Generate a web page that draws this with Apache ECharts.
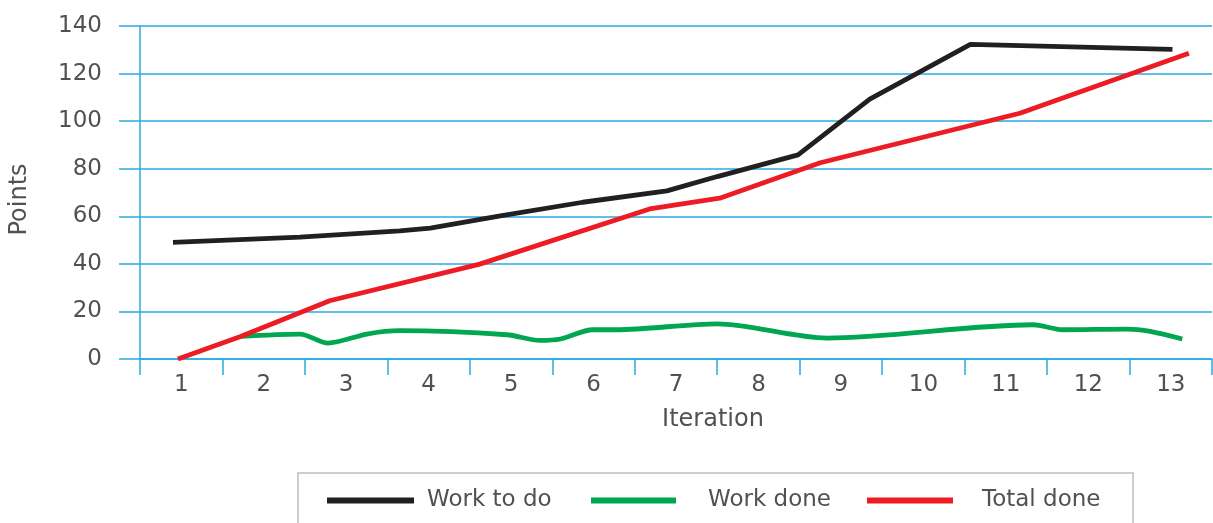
<!DOCTYPE html>
<html>
<head>
<meta charset="utf-8">
<script src="https://cdn.jsdelivr.net/npm/echarts@6/dist/echarts.min.js"></script>
<style>
html,body{margin:0;padding:0;background:#fff;}
#chart{width:1213px;height:523px;}
</style>
</head>
<body>
<div id="chart"></div>
<script>
// Category tick labels
var iterations = ['1','2','3','4','5','6','7','8','9','10','11','12','13'];
var yTicks = [0, 20, 40, 60, 80, 100, 120, 140];

// Series: x positions (in iteration units) and values
var workToDoX = [0.90, 2.44, 3.65, 4.02, 4.87, 5.87, 6.89, 7.50, 8.48, 9.35, 10.57, 13.02];
var workToDo  = [49.0, 51.2, 53.9, 55.0, 60.2, 65.9, 70.7, 76.7, 85.8, 109.3, 132.3, 130.2];

var workDoneX = [1.72, 2.44, 2.78, 3.25, 3.65, 4.95, 5.35, 5.60, 5.99, 6.28, 7.50, 8.83, 11.33, 11.69, 12.47, 12.75, 13.14];
var workDone  = [9.5, 10.5, 6.7, 10.5, 11.9, 10.2, 7.8, 8.4, 12.3, 12.3, 14.8, 8.8, 14.4, 12.3, 12.6, 11.6, 8.4];

var totalDoneX = [0.96, 1.72, 2.80, 4.62, 6.68, 7.53, 8.75, 11.17, 13.22];
var totalDone  = [0, 9.5, 24.5, 39.9, 63.1, 67.6, 82.5, 103.3, 128.5];

function zip(xs, ys) { return xs.map(function (x, i) { return [x, ys[i]]; }); }

var FONT = 'DejaVu Sans';
var TXT = '#505153';
var BLUE = '#29abe2';

var chart = echarts.init(document.getElementById('chart'), null, {renderer: 'canvas'});
chart.setOption({
  animation: false,
  backgroundColor: '#ffffff',
  grid: {left: 140, right: 1, top: 26, bottom: 164, containLabel: false},
  xAxis: [{
    type: 'category',
    data: iterations,
    boundaryGap: true,
    name: 'Iteration',
    nameLocation: 'middle',
    nameGap: 49,
    nameTextStyle: {fontFamily: FONT, fontSize: 24, color: TXT, padding: [0, 0, 0, 74]},
    axisLine: {show: true, lineStyle: {color: BLUE, width: 1.5}},
    axisTick: {show: true, alignWithLabel: false, length: 16, lineStyle: {color: BLUE, width: 1.5}},
    axisLabel: {fontFamily: FONT, fontSize: 23, color: TXT, margin: 15},
    splitLine: {show: false}
  }, {
    type: 'value',
    min: 0.5,
    max: 13.5,
    show: false
  }],
  yAxis: {
    type: 'value',
    min: 0,
    max: 140,
    interval: 20,
    name: 'Points',
    nameLocation: 'middle',
    nameRotate: 90,
    nameGap: 108,
    nameTextStyle: {fontFamily: FONT, fontSize: 24, color: TXT, padding: [0, 14, 0, 0]},
    axisLine: {show: true, lineStyle: {color: BLUE, width: 1.5}},
    axisTick: {show: true, length: 21, lineStyle: {color: BLUE, width: 1.5}},
    axisLabel: {fontFamily: FONT, fontSize: 23, color: TXT, margin: 38, padding: [0, 0, 8, 0],
      formatter: function (v) { return yTicks.indexOf(v) >= 0 ? String(v) : ''; }},
    splitLine: {show: true, lineStyle: {color: BLUE, width: 1.5}}
  },
  legend: [{
    data: ['Work to do'], left: 327, top: 489, padding: 0,
    icon: 'rect', itemWidth: 87, itemHeight: 6,
    textStyle: {fontFamily: FONT, fontSize: 23, color: TXT, padding: [0, 0, 0, 8]}
  }, {
    data: ['Work done'], left: 591, top: 489, padding: 0,
    icon: 'rect', itemWidth: 85, itemHeight: 6,
    textStyle: {fontFamily: FONT, fontSize: 23, color: TXT, padding: [0, 0, 0, 27]}
  }, {
    data: ['Total done'], left: 867, top: 489, padding: 0,
    icon: 'rect', itemWidth: 86, itemHeight: 6,
    textStyle: {fontFamily: FONT, fontSize: 23, color: TXT, padding: [0, 0, 0, 24]}
  }],
  graphic: [{
    type: 'rect',
    shape: {x: 298, y: 473, width: 835, height: 80},
    style: {fill: 'none', stroke: '#bcbec0', lineWidth: 1.5},
    silent: true
  }],
  series: [{
    name: 'Work to do',
    type: 'line',
    xAxisIndex: 1,
    data: zip(workToDoX, workToDo),
    showSymbol: false,
    symbol: 'none',
    smooth: false,
    color: '#231f20',
    lineStyle: {color: '#231f20', width: 4.8}
  }, {
    name: 'Work done',
    type: 'line',
    xAxisIndex: 1,
    data: zip(workDoneX, workDone),
    showSymbol: false,
    symbol: 'none',
    smooth: 0.3,
    color: '#00a651',
    lineStyle: {color: '#00a651', width: 4.8}
  }, {
    name: 'Total done',
    type: 'line',
    xAxisIndex: 1,
    data: zip(totalDoneX, totalDone),
    showSymbol: false,
    symbol: 'none',
    smooth: false,
    color: '#ed1c24',
    lineStyle: {color: '#ed1c24', width: 4.8}
  }]
});
</script>
</body>
</html>
